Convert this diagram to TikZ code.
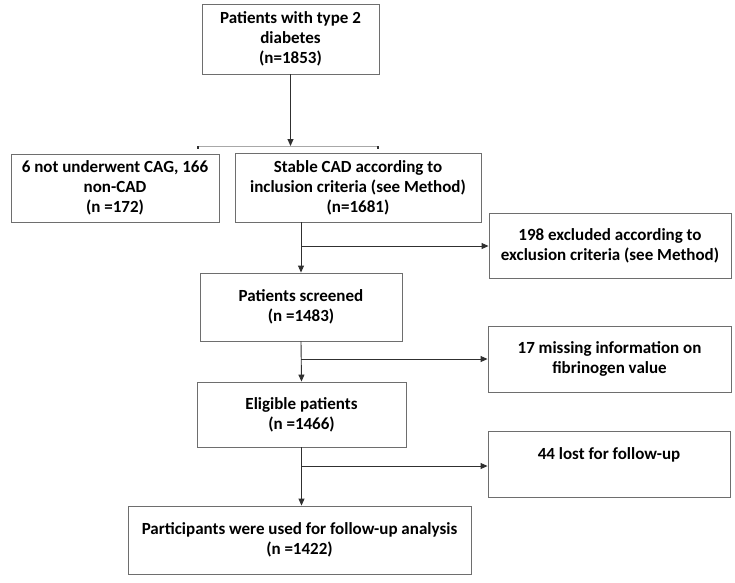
\documentclass[tikz,border=0pt]{standalone}
\usepackage{fontspec}
\setmainfont{Carlito}
\usepackage{xcolor}
\definecolor{flowBorder}{HTML}{6E6E6E}
\definecolor{flowArrow}{HTML}{303030}
\definecolor{flowBracket}{HTML}{A8A8A8}
\usetikzlibrary{arrows.meta}

\begin{document}
\begin{tikzpicture}[x=1pt, y=-1pt,
  flowbox/.style={draw=flowBorder, line width=0.9pt, align=center, inner sep=1pt,
    font=\fontsize{17}{20}\selectfont\bfseries},
  flowarrow/.style={draw=flowArrow, line width=0.9pt, -{Triangle[length=7pt, width=6pt]}}]
  \filldraw[fill=white, draw=none] (0,0) rectangle (735,582);
  \node[flowbox, minimum width=177pt, minimum height=70pt] (T) at (290.5,39) {Patients with type 2\\diabetes\\(n=1853)};
  \node[flowbox, minimum width=208pt, minimum height=68pt] (N) at (115,188) {6 not underwent CAG, 166\\non-CAD\\(n =172)};
  \node[flowbox, minimum width=246pt, minimum height=69pt] (S) at (358,187.5) {Stable CAD according to\\inclusion criteria (see Method)\\(n=1681)};
  \node[flowbox, minimum width=242pt, minimum height=65pt] (X) at (610,245.5) {198 excluded according to\\exclusion criteria (see Method)};
  \node[flowbox, minimum width=202pt, minimum height=68pt] (P) at (301,307) {Patients screened\\(n =1483)};
  \node[flowbox, minimum width=243pt, minimum height=66pt] (M) at (609.5,359) {17 missing information on\\fibrinogen value};
  \node[flowbox, minimum width=209pt, minimum height=65pt] (E) at (301.5,414.5) {Eligible patients\\(n =1466)};
  \node[flowbox, minimum width=242pt, minimum height=66pt] (L) at (609,464) {44 lost for follow-up\\\mbox{}};
  \node[flowbox, minimum width=343pt, minimum height=68pt] (F) at (299.5,540) {Participants were used for follow-up analysis\\(n =1422)};
  % split bracket under the first box
  \coordinate (brL) at (198,146);
  \coordinate (brR) at (378,146);
  \draw[flowBracket, line width=0.9pt] (brL) -- (brR);
  \draw[flowArrow, line width=1.2pt] (brL) -- ++(0,3);
  \draw[flowArrow, line width=1.2pt] (brR) -- ++(0,3);
  \draw[flowarrow] (T.south) -- (T.south |- brL);
  % main column with side branches
  \coordinate (b1) at (301,246);
  \coordinate (b2) at (301,359);
  \coordinate (b3) at (301,466);
  \draw[flowarrow] (P.north |- S.south) -- (P.north);
  \draw[flowarrow] (b1) -- (b1 -| X.west);
  \draw[flowarrow] (P.south) -- (E.north);
  \draw[flowarrow] (b2) -- (b2 -| M.west);
  \draw[flowarrow] (E.south) -- (E.south |- F.north);
  \draw[flowarrow] (b3) -- (b3 -| L.west);
\end{tikzpicture}
\end{document}
